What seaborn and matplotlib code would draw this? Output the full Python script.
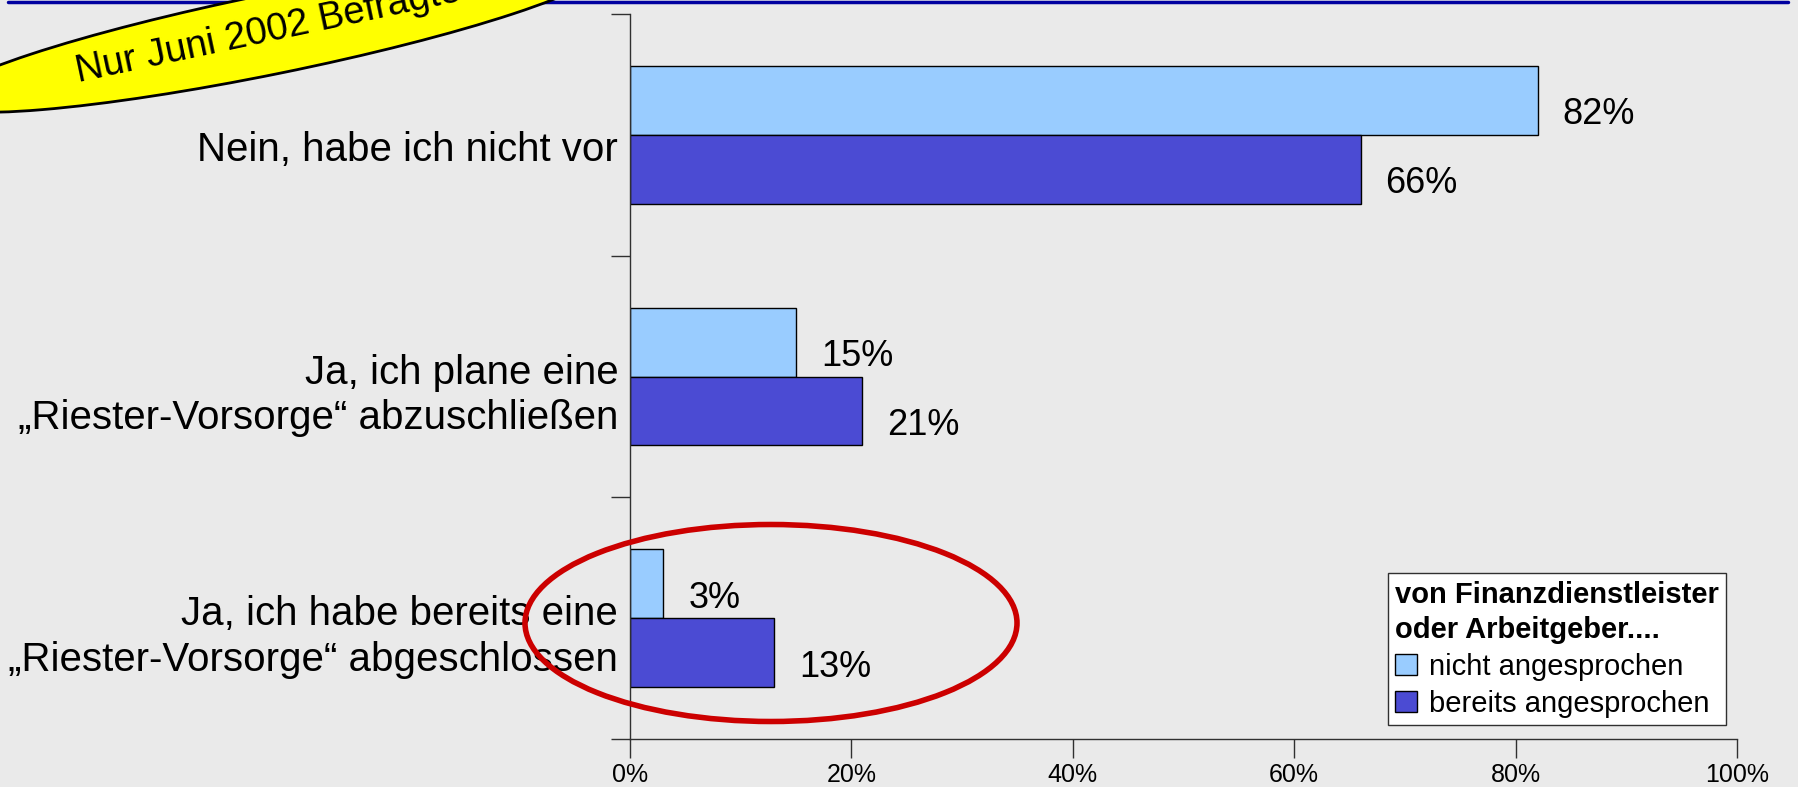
import matplotlib as mpl
mpl.use('Agg')
import matplotlib.pyplot as plt
from matplotlib.patches import Ellipse, Patch
from matplotlib.transforms import ScaledTranslation
import seaborn as sns
import pandas as pd

categories = ["Nein, habe ich nicht vor",
              "Ja, ich plane eine\n\u201eRiester-Vorsorge\u201c abzuschließen",
              "Ja, ich habe bereits eine\n\u201eRiester-Vorsorge\u201c abgeschlossen"]
groups = ["nicht angesprochen", "bereits angesprochen"]
nicht = [82, 15, 3]
bereits = [66, 21, 13]
xticks = [0, 20, 40, 60, 80, 100]
legend_title = "von Finanzdienstleister\noder Arbeitgeber...."
badge = "Nur Juni 2002 Befragte"

colors = ["#99CCFF", "#4B4BD3"]

df = pd.DataFrame({
    "Kategorie": categories * 2,
    "Gruppe": [groups[0]] * 3 + [groups[1]] * 3,
    "Wert": nicht + bereits,
})

sns.set_theme(style="white", rc={"xtick.bottom": True, "ytick.left": True,
                                 "text.color": "black", "xtick.color": "black",
                                 "ytick.color": "black"})
plt.rcParams['font.family'] = ['Liberation Sans', 'DejaVu Sans']

W, H = 1799, 787
fig = plt.figure(figsize=(W / 100, H / 100), dpi=100, facecolor="#EAEAEA")
ax = fig.add_axes([630 / W, 1 - 739 / H, (1737 - 630) / W, (739 - 14) / H])
ax.set_facecolor("#EAEAEA")

sns.barplot(data=df, y="Kategorie", x="Wert", hue="Gruppe", orient="h",
            palette=colors, saturation=1, width=0.57, edgecolor="black",
            linewidth=1, ax=ax, legend=False)

ax.set_xlim(0, 100)
ax.set_ylim(2.5, -0.5)
ax.set_xlabel("")
ax.set_ylabel("")
ax.set_xticks(xticks)
ax.set_xticklabels([f"{v}%" for v in xticks], fontsize=18)
ax.tick_params(axis="x", length=13.5, width=1, color="#303030", pad=4)
ax.tick_params(axis="y", which="major", length=0, pad=8.5, labelsize=29)
ax.set_yticks([-0.5, 0.5, 1.5, 2.5], minor=True)
ax.tick_params(axis="y", which="minor", length=14, width=1, color="#303030")
shift = ScaledTranslation(0, -0.11, fig.dpi_scale_trans)
for lab in ax.get_yticklabels():
    lab.set_horizontalalignment("right")
    lab.set_multialignment("right")
    lab.set_linespacing(1.26)
    lab.set_transform(lab.get_transform() + shift)

for s in ["top", "right"]:
    ax.spines[s].set_visible(False)
for s in ["left", "bottom"]:
    ax.spines[s].set_color("#303030")
    ax.spines[s].set_linewidth(1)

for cont in ax.containers:
    for rect in cont:
        w = rect.get_width()
        ax.annotate(f"{w:.0f}%", (w, rect.get_y() + rect.get_height() / 2),
                    xytext=(18, -10.5), textcoords="offset points", va="center",
                    ha="left", fontsize=26)

handles = [Patch(facecolor=c, edgecolor="black", label=g) for c, g in zip(colors, groups)]
leg = fig.legend(handles=handles, title=legend_title, loc="lower left",
                 bbox_to_anchor=(1388 / W, 1 - 725 / H), fontsize=21,
                 title_fontproperties={"weight": "bold", "size": 21},
                 alignment="left", frameon=True, fancybox=False,
                 edgecolor="#303030", facecolor="white", framealpha=1,
                 handlelength=0.75, handleheight=0.75, handletextpad=0.4,
                 borderpad=0.25, borderaxespad=0, labelspacing=0.3)
leg.get_frame().set_linewidth(1)
leg.get_title().set_linespacing(1.35)

# red ellipse around the bottom group
ell = Ellipse((771 / W, 1 - 623 / H), 492 / W, 197 / H, transform=fig.transFigure,
              fill=False, edgecolor="#CC0000", linewidth=4, zorder=10)
fig.patches.append(ell)

# dark blue line at the top
fig.add_artist(plt.Line2D([8 / W, 1788 / W], [1 - 1.5 / H, 1 - 1.5 / H],
                          transform=fig.transFigure, color="#0000A0",
                          linewidth=2.5, zorder=4))

# yellow badge in the top left corner (inch units so the tilt is not distorted)
badge_ell = Ellipse((2.72, (H - 34) / 100), 6.8, 0.8, angle=11.5,
                    transform=fig.dpi_scale_trans, facecolor="#FFFF00",
                    edgecolor="black", linewidth=2, zorder=5)
fig.patches.append(badge_ell)
fig.text(78 / W, 1 - 82 / H, badge, rotation=12, rotation_mode="anchor",
         fontsize=27.5, ha="left", va="baseline", zorder=6)

fig.savefig("out.png", dpi=100, facecolor=fig.get_facecolor())
